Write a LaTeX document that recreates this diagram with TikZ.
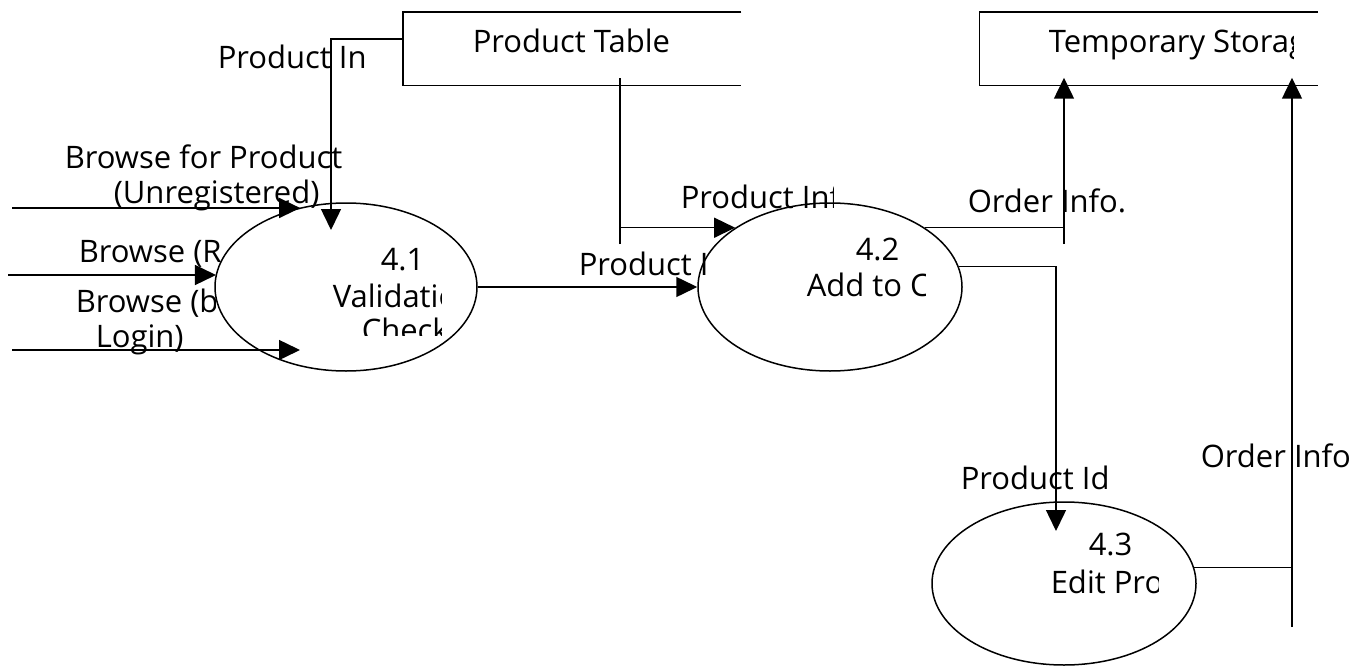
\documentclass[tikz,border=0pt]{standalone}
\usepackage{fontspec}
\setmainfont{Open Sans}
\usetikzlibrary{arrows.meta,shapes.geometric}

\begin{document}
\begin{tikzpicture}[x=1pt,y=-1pt,line width=1.5pt,
  proc/.style={draw,ellipse,minimum width=264pt,minimum height=166pt},
  store/.style={rectangle,minimum width=337pt,minimum height=72pt},
  flow/.style={-{Triangle[length=21pt,width=20pt]}},
  lbl/.style={anchor=base west,font=\fontsize{31}{36}\selectfont}]
\tikzstyle{every node}+=[inner sep=0pt]
\useasboundingbox (0,0) rectangle (1363,666);
% data stores (open on the right)
\node[store] (ptable) at (572,49) {};
\node[store] (tstore) at (1148.5,49) {};
\draw (ptable.north east) -- (ptable.north west) -- (ptable.south west) -- (ptable.south east);
\draw (tstore.north east) -- (tstore.north west) -- (tstore.south west) -- (tstore.south east);
\node[lbl] (ptabletxt) at (472,53) {Product Table};
\begin{scope}
\clip (980,0) rectangle (1293,100);
\node[lbl] (tstoretxt) at (1048,53) {Temporary Storag};
\end{scope}
% processes
\node[proc,minimum width=262pt,minimum height=168pt] (p41) at (346,287) {};
\node[proc,minimum height=168pt] (p42) at (830,287) {};
\node[proc,minimum height=163pt] (p43) at (1064,583.5) {};
\begin{scope}
\clip (200,230) rectangle (441,335);
\node[lbl] (p41num) at (380,270) {4.1};
\node[lbl] (p41name) at (332,307) {Validatio};
\node[lbl] (p41name2) at (361,341) {Check};
\end{scope}
\node[lbl] (p42num) at (855,260) {4.2};
\begin{scope}
\clip (700,270) rectangle (925,320);
\node[lbl] (p42name) at (806,296) {Add to C};
\end{scope}
\node[lbl] (p43num) at (1088,555) {4.3};
\begin{scope}
\clip (1000,560) rectangle (1158,610);
\node[lbl] (p43name) at (1050,593) {Edit Pro};
\end{scope}
% loose ends
\coordinate (srcA) at (12,208);
\coordinate (srcB) at (8,275);
\coordinate (srcC) at (12,350);
\coordinate (inC) at (300,350);
\coordinate (pin) at (331,230);
\coordinate (tap1) at (620,244);
\coordinate (tap2) at (1064,244);
\coordinate (in43) at (1056,531);
\coordinate (tap3) at (1292,627);
% flows into 4.1
\draw[flow] ([yshift=10pt]ptable.west) -| (pin);
\node[lbl] (lpin) at (217,69) {Product In};
\draw[flow] (srcA) -- (srcA -| p41.120);
\node[lbl] (lbra) at (64,168) {Browse for Product};
\node[lbl] (lbra2) at (113,204) {(Unregistered)};
\draw[flow] (srcB) -- (srcB -| p41.174);
\begin{scope}
\clip (0,220) rectangle (226,275);
\node[lbl] (lbrb) at (78,262) {Browse (R};
\end{scope}
\draw[flow] (srcC) -- (inC);
\begin{scope}
\clip (0,280) rectangle (215,320);
\node[lbl] (lbrc) at (75,312) {Browse (b};
\end{scope}
\node[lbl] (lbrc2) at (95,347) {Login)};
% 4.1 to 4.2
\draw[flow] (p41.east) -- (p42.west);
\begin{scope}
\clip (570,230) rectangle (708,285);
\node[lbl] (lpid) at (578,275) {Product I};
\end{scope}
\draw[shorten >=-8pt] (tap1) -- (tap1 |- ptable.south);
\draw[flow] (tap1 |- p42.148) -- (p42.148);
\begin{scope}
\clip (670,170) rectangle (833,220);
\node[lbl] (lpinf) at (680,208) {Product Inf};
\end{scope}
% out of 4.2
\draw (p42.32) -- (p42.32 -| tap2);
\draw[flow,shorten >=-8pt] (tap2) -- (tap2 |- tstore.south);
\node[lbl] (lord) at (967,212) {Order Info.};
\draw[flow] (p42.9) -| (in43);
\node[lbl] (lpid2) at (960,489) {Product Id};
% out of 4.3
\draw (p43.7) -- (p43.7 -| tap3);
\draw[flow,shorten >=-8pt] (tap3) -- (tap3 |- tstore.south);
\node[lbl] (lord2) at (1200,467) {Order Info};
\end{tikzpicture}
\end{document}
